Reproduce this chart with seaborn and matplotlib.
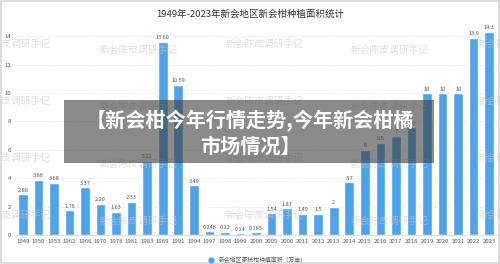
import numpy as np
import matplotlib
matplotlib.use('Agg')
import matplotlib.pyplot as plt
import pandas as pd
import seaborn as sns
from matplotlib.patches import Rectangle

years = ['1949', '1950', '1955', '1962', '1966', '1970', '1978', '1981', '1983', '1989',
         '1991', '1994', '1997', '1998', '1999', '2000', '2005', '2006', '2011', '2012',
         '2013', '2014', '2015', '2016', '2017', '2018', '2019', '2020', '2021', '2022', '2023']
area = [2.88, 3.88, 3.68, 1.76, 3.37, 2.20, 1.63, 2.33, 5.22, 13.60,
        10.59, 3.49, 0.246, 0.22, 0.14, 0.185, 1.54, 1.87, 1.49, 1.5,
        2, 3.7, 6, 6.5, 7, 7.6, 10, 10, 10, 13.9, 14.3]
value_labels = ['2.88', '3.88', '3.68', '1.76', '3.37', '2.20', '1.63', '2.33', '5.22', '13.60',
                '10.59', '3.49', '0.246', '0.22', '0.14', '0.185', '1.54', '1.87', '1.49', '1.5',
                '2', '3.7', '6', '6.5', '7', '7.6', '10', '10', '10', '13.9', '14.3']
y_ticks = [0, 2, 4, 6, 8, 10, 12, 14]

title = '1949年-2023年新会地区新会柑种植面积统计'
legend_label = '新会地区茶枝柑种植面积（万亩）'
watermark = '新会陈皮调研手记'
banner = ['【新会柑今年行情走势,今年新会柑橘', '市场情况】']

df = pd.DataFrame({'year': years, 'area': area})

sns.set_theme(style='white')
plt.rcParams['font.family'] = ['Noto Sans CJK SC', 'DejaVu Sans']

fig = plt.figure(figsize=(5, 2.64), dpi=100)
fig.patch.set_edgecolor('#dddddd')
fig.patch.set_linewidth(1.5)
ax = fig.add_axes([0.03, 0.11, 0.964, 0.78])

bar_color = '#4fa3ea'
sns.barplot(data=df, x='year', y='area', color=bar_color, width=0.62,
            saturation=1, ax=ax, label=legend_label)
ax.bar_label(ax.containers[0], labels=value_labels, fontsize=4, color='#555555', padding=1)

ax.set_ylim(0, 14.5)
ax.set_yticks(y_ticks)
ax.yaxis.grid(True, linestyle=(0, (1, 2)), color='#d0d0d0', linewidth=0.6)
ax.set_axisbelow(True)
for s in ['top', 'right', 'left']:
    ax.spines[s].set_visible(False)
ax.spines['bottom'].set_color('#d9d9d9')
ax.spines['bottom'].set_linewidth(0.6)
ax.tick_params(axis='both', length=0, labelsize=4.3, colors='#595959', pad=3)
ax.set_xlabel('')
ax.set_ylabel('')
ax.legend(handles=[plt.Line2D([], [], marker='o', linestyle='', color=bar_color, markersize=3.5)],
          labels=[legend_label], loc='upper center', bbox_to_anchor=(0.5, -0.08),
          frameon=False, fontsize=4.2, labelcolor='#595959', handletextpad=0.2)

fig.text(0.5, 0.945, title, ha='center', va='center', fontsize=6.8, color='#333333')

# watermarks
for row, y in enumerate([44, 101, 158, 215]):
    for x in [12, 265, 517]:
        fig.text(x / 500, 1 - y / 264, watermark, ha='center', va='center', fontsize=7,
                 color='#c8c8c8', alpha=0.6, zorder=10)
    for x in [139, 390]:
        fig.text(x / 500, 1 - (y + 6) / 264, watermark, ha='center', va='center', fontsize=7,
                 color='#c8c8c8', alpha=0.6, zorder=10)

# banner overlay
fig.patches.append(Rectangle((64 / 500, 1 - 163 / 264), 370 / 500, 63 / 264,
                             transform=fig.transFigure, facecolor='#3c3c3c', alpha=0.6,
                             edgecolor='none', zorder=20))
fig.text(0.5, 1 - 120 / 264, banner[0], ha='center', va='center', fontsize=14.5,
         fontweight='bold', color='white', zorder=21)
fig.text(0.5, 1 - 146 / 264, banner[1], ha='center', va='center', fontsize=14.5,
         fontweight='bold', color='white', zorder=21)

fig.savefig('out.png', dpi=100)
